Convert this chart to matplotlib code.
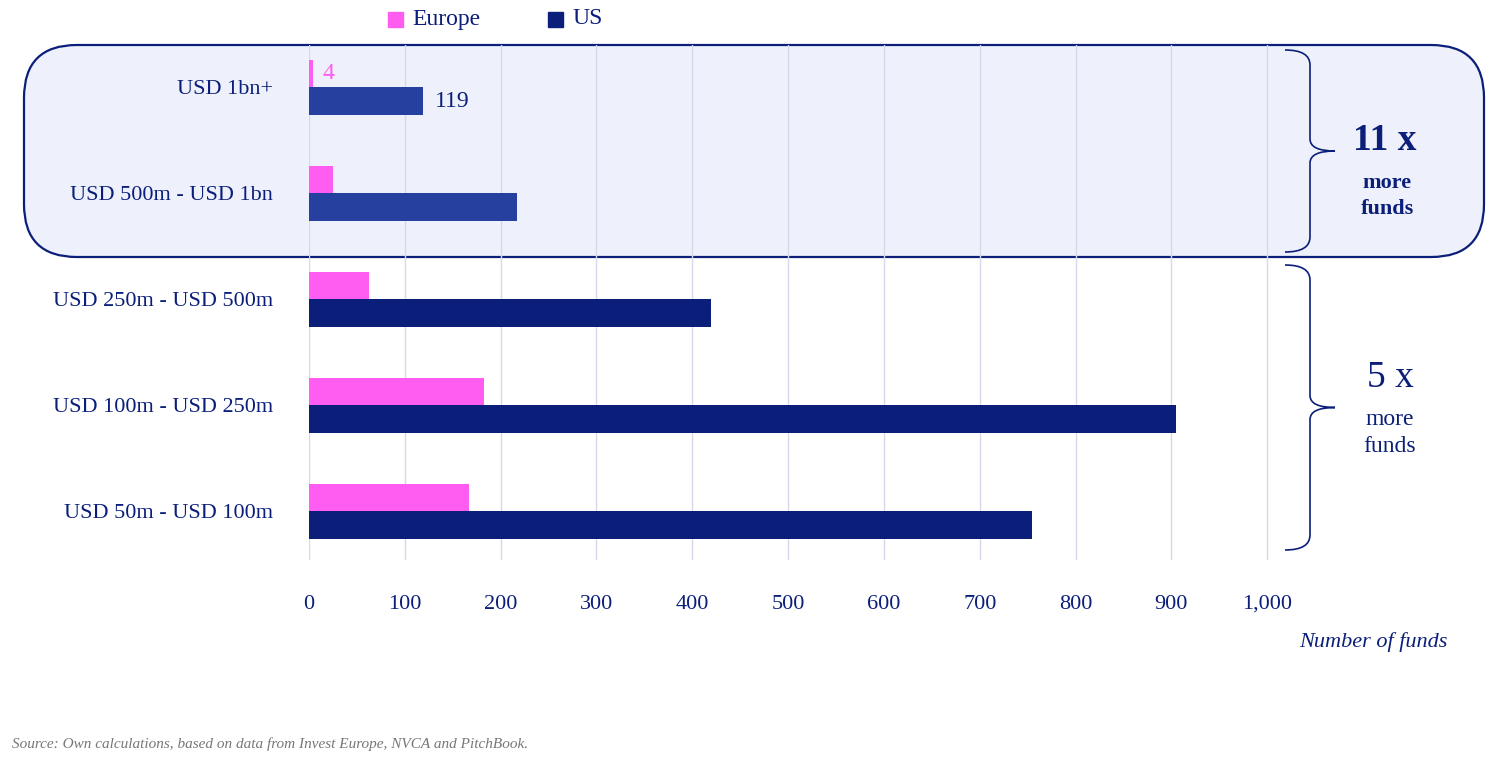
import matplotlib.pyplot as plt
from matplotlib.patches import FancyBboxPatch, PathPatch
from matplotlib.path import Path

categories = ["USD 1bn+", "USD 500m - USD 1bn", "USD 250m - USD 500m",
              "USD 100m - USD 250m", "USD 50m - USD 100m"]
europe = [4, 25, 63, 183, 167]
us = [119, 217, 420, 905, 754]

W, H = 1508, 765
navy = "#0b1f7a"
navy_light = "#25409e"
pink = "#ff5cf2"
plt.rcParams['font.family'] = ['Liberation Serif', 'DejaVu Serif']

fig = plt.figure(figsize=(W / 100, H / 100), dpi=100)

def fx(x):
    return x / W

def fy(y):
    return 1 - y / H

# highlight box, drawn behind the axes
box = FancyBboxPatch((fx(24), fy(257)), fx(1484) - fx(24), fy(45) - fy(257),
                     boxstyle="round,pad=0,rounding_size=0.035",
                     transform=fig.transFigure, facecolor="#eef1fb",
                     edgecolor=navy, lw=1.6, zorder=0, mutation_aspect=W / H)
fig.add_artist(box)

ax = fig.add_axes([fx(309), fy(560), fx(1296) - fx(309), fy(45) - fy(560)])
ax.patch.set_alpha(0)
ypos = list(range(len(categories)))
h = 0.26
us_cols = [navy_light, navy_light, navy, navy, navy]
ax.barh([y - h / 2 for y in ypos], europe, height=h, color=pink, zorder=3)
ax.barh([y + h / 2 for y in ypos], us, height=h, color=us_cols, zorder=3)
ax.set_xlim(0, 1030)
ax.set_ylim(4.46, -0.4)
ax.set_xticks(range(0, 1001, 100))
ax.set_xticklabels([f"{v:,}" for v in range(0, 1001, 100)], fontsize=16, color=navy)
ax.tick_params(axis='x', length=0, pad=25)
ax.set_yticks(ypos)
ax.set_yticklabels(categories, fontsize=16, color=navy)
ax.tick_params(axis='y', length=0, pad=26)
ax.grid(axis='x', color="#d5d9ea", lw=1, zorder=0)
for s in ax.spines.values():
    s.set_visible(False)
ax.text(europe[0] + 10, -h / 2, "4", color=pink, fontsize=17, va='center')
ax.text(us[0] + 12, h / 2, "119", color=navy, fontsize=17, va='center')

def brace(y0, y1, x0=1285, x1=1335):
    ym = (y0 + y1) / 2
    xm = (x0 + x1) / 2
    pts = [(x0, y0), (xm, y0), (xm, y0 + 15),
           (xm, ym - 12), (xm, ym), (x1, ym),
           (xm, ym), (xm, ym + 12),
           (xm, y1 - 15), (xm, y1), (x0, y1)]
    codes = [Path.MOVETO, Path.CURVE3, Path.CURVE3,
             Path.LINETO, Path.CURVE3, Path.CURVE3,
             Path.CURVE3, Path.CURVE3,
             Path.LINETO, Path.CURVE3, Path.CURVE3]
    p = Path([(fx(a), fy(b)) for a, b in pts], codes)
    fig.add_artist(PathPatch(p, transform=fig.transFigure, fill=False,
                             edgecolor=navy, lw=1.2))

brace(50, 252)
brace(265, 550)
fig.text(fx(1385), fy(140), "11 x", fontsize=27, fontweight='bold', color=navy, ha='center', va='center')
fig.text(fx(1387), fy(196), "more\nfunds", fontsize=16, fontweight='bold', color=navy, ha='center', va='center', linespacing=1.4)
fig.text(fx(1390), fy(378), "5 x", fontsize=27, color=navy, ha='center', va='center')
fig.text(fx(1390), fy(433), "more\nfunds", fontsize=17, color=navy, ha='center', va='center', linespacing=1.4)

# legend
for x, lab, c in [(388, "Europe", pink), (548, "US", navy)]:
    fig.patches.append(plt.Rectangle((fx(x), fy(27)), fx(15), fy(0) - fy(15),
                                     transform=fig.transFigure, color=c))
    fig.text(fx(x + 24), fy(19), lab, fontsize=17, color=navy, va='center')

fig.text(fx(1448), fy(642), "Number of funds", fontsize=16, style='italic', color=navy, ha='right', va='center')
fig.text(fx(12), fy(744), "Source: Own calculations, based on data from Invest Europe, NVCA and PitchBook.",
         fontsize=11, style='italic', color="#777777", va='center')

fig.savefig("out.png", dpi=100)
